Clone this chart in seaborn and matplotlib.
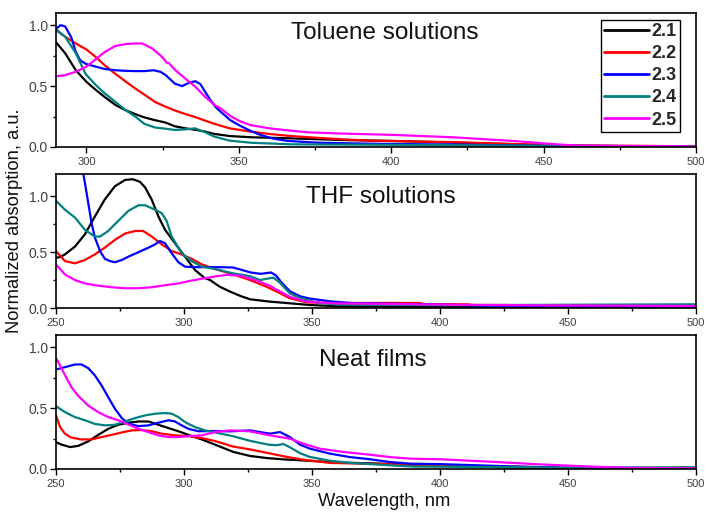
import numpy as np
import pandas as pd
import matplotlib
matplotlib.use("Agg")
import matplotlib.pyplot as plt
from matplotlib.ticker import MultipleLocator
import seaborn as sns

# ---------------- data ----------------
series_names = ["2.1", "2.2", "2.3", "2.4", "2.5"]
series_colors = ["#000000", "#ff0000", "#0000ff", "#008080", "#ff00ff"]
panel_titles = ["Toluene solutions", "THF solutions", "Neat films"]

# Toluene solutions
tol_x_21 = [290, 293, 296.5, 300, 303, 306, 309.5, 313, 316, 319, 322.5, 326, 329, 332.5, 336, 339, 342, 347, 354, 367, 384, 400, 430, 450, 480, 500]
tol_y_21 = [0.86, 0.77, 0.63, 0.535, 0.47, 0.41, 0.345, 0.30, 0.27, 0.243, 0.22, 0.20, 0.17, 0.153, 0.14, 0.126, 0.107, 0.09, 0.08, 0.071, 0.057, 0.05, 0.03, 0.015, 0.005, 0.004]
tol_x_22 = [290, 293, 296.5, 300, 303, 306, 309.5, 313, 316, 319, 322.5, 326, 329, 332.5, 336, 339, 342, 347, 354, 360, 367, 373, 384, 393, 420, 440, 460, 490, 500]
tol_y_22 = [0.96, 0.905, 0.85, 0.80, 0.74, 0.67, 0.60, 0.535, 0.48, 0.43, 0.37, 0.33, 0.30, 0.27, 0.243, 0.216, 0.19, 0.153, 0.126, 0.107, 0.09, 0.08, 0.063, 0.052, 0.04, 0.025, 0.012, 0.008, 0.005]
tol_x_23 = [290, 291.5, 293, 295, 296.5, 298, 300, 303, 306, 309.5, 313, 316, 319, 322, 324.3, 326, 329, 331.4, 333.6, 335.7, 337.4, 339, 340.7, 342.3, 344, 347.2, 350, 354, 357, 361, 366, 376, 386, 400, 420, 450, 500]
tol_y_23 = [0.97, 1.0, 0.99, 0.90, 0.78, 0.71, 0.68, 0.66, 0.64, 0.63, 0.625, 0.623, 0.623, 0.63, 0.617, 0.59, 0.52, 0.50, 0.527, 0.54, 0.516, 0.45, 0.385, 0.33, 0.29, 0.22, 0.18, 0.13, 0.10, 0.07, 0.05, 0.035, 0.03, 0.025, 0.02, 0.01, 0.005]
tol_x_24 = [290, 293, 296.5, 299.7, 303, 306, 309.5, 313, 316, 319, 322.5, 326, 329, 332.5, 335.7, 339, 342, 347, 354, 367, 400, 450, 500]
tol_y_24 = [0.965, 0.905, 0.77, 0.60, 0.51, 0.44, 0.37, 0.30, 0.25, 0.19, 0.16, 0.15, 0.14, 0.145, 0.153, 0.12, 0.085, 0.052, 0.035, 0.022, 0.018, 0.01, 0.005]
tol_x_25 = [290, 293, 296.5, 300, 303, 306, 309.5, 313, 316, 318.3, 321.5, 324.8, 326.4, 327, 329.2, 332.5, 335.7, 339, 342.3, 344, 347.2, 350.5, 353.8, 360, 367, 373, 384, 400, 420, 440, 450, 460, 500]
tol_y_25 = [0.58, 0.59, 0.617, 0.66, 0.72, 0.78, 0.83, 0.845, 0.85, 0.85, 0.81, 0.74, 0.69, 0.69, 0.63, 0.56, 0.495, 0.41, 0.34, 0.317, 0.254, 0.21, 0.18, 0.153, 0.134, 0.12, 0.11, 0.10, 0.08, 0.05, 0.03, 0.012, 0.005]

# THF solutions
thf_x_21 = [250, 251.6, 253.5, 257.4, 261.3, 265.2, 269, 273, 277, 280, 282.8, 284.8, 287.4, 290, 292.6, 296.5, 300.4, 304.3, 308, 310.2, 314, 318, 322, 325.8, 333.6, 341.4, 349.2, 360, 400, 500]
thf_y_21 = [0.45, 0.456, 0.48, 0.55, 0.66, 0.82, 0.97, 1.09, 1.147, 1.153, 1.13, 1.08, 0.97, 0.82, 0.70, 0.58, 0.46, 0.34, 0.27, 0.25, 0.19, 0.147, 0.108, 0.078, 0.057, 0.042, 0.027, 0.015, 0.01, 0.005]
thf_x_22 = [250, 253.5, 257.4, 261.3, 265.2, 269, 273, 277, 281, 284, 287.4, 291.3, 295.2, 299, 303, 307, 312, 319.3, 325.8, 332.3, 336.2, 341.4, 348, 360, 392, 394, 411, 413, 426, 435, 500]
thf_y_22 = [0.51, 0.42, 0.40, 0.43, 0.48, 0.54, 0.61, 0.667, 0.69, 0.69, 0.64, 0.57, 0.51, 0.48, 0.44, 0.39, 0.35, 0.30, 0.25, 0.19, 0.147, 0.087, 0.05, 0.045, 0.045, 0.035, 0.033, 0.027, 0.027, 0.02, 0.015]
thf_x_23 = [259.5, 261.3, 262.6, 263.9, 265.2, 267.2, 269.1, 271.1, 273, 275.7, 278.3, 282.2, 286.1, 288.7, 290.6, 292.6, 295.2, 297.8, 300.4, 304.3, 312, 319, 322, 326, 330, 334, 336, 338, 341.4, 345.3, 349, 357, 365, 400, 420, 450, 500]
thf_y_23 = [1.35, 1.12, 0.94, 0.76, 0.63, 0.51, 0.44, 0.42, 0.41, 0.43, 0.46, 0.50, 0.54, 0.57, 0.60, 0.58, 0.49, 0.41, 0.37, 0.366, 0.366, 0.363, 0.345, 0.318, 0.306, 0.318, 0.29, 0.23, 0.15, 0.105, 0.085, 0.06, 0.045, 0.03, 0.02, 0.015, 0.01]
thf_x_24 = [250, 253.5, 257.4, 261.3, 265.2, 267.2, 270.4, 274.3, 278.3, 282.2, 284.8, 288.7, 291.3, 293.2, 295.2, 299.1, 303, 307, 312, 319.3, 325.8, 329.7, 332.3, 335, 337.5, 341.4, 345.3, 351.8, 358.3, 400, 460, 500]
thf_y_24 = [0.96, 0.88, 0.81, 0.70, 0.64, 0.64, 0.69, 0.78, 0.87, 0.92, 0.92, 0.88, 0.85, 0.78, 0.64, 0.49, 0.42, 0.37, 0.35, 0.31, 0.285, 0.25, 0.262, 0.272, 0.225, 0.13, 0.09, 0.048, 0.033, 0.025, 0.03, 0.033]
thf_x_25 = [250, 253.5, 257.4, 261.3, 266.5, 271.7, 277, 282.2, 287.4, 292.6, 297.8, 303, 308.2, 312.8, 316.7, 321.9, 328.4, 333.6, 337.5, 341.4, 347.9, 358.3, 400, 430, 500]
thf_y_25 = [0.39, 0.30, 0.25, 0.22, 0.20, 0.186, 0.177, 0.177, 0.186, 0.204, 0.22, 0.246, 0.267, 0.285, 0.297, 0.29, 0.246, 0.198, 0.147, 0.10, 0.057, 0.042, 0.03, 0.025, 0.018]

# Neat films
film_x_21 = [250, 252.2, 255.5, 258.7, 262.6, 266.5, 270.4, 274.3, 278.3, 282.2, 286.1, 290, 293.9, 297.8, 301.7, 306.9, 312.1, 319.3, 325.8, 332.3, 338.8, 345.3, 358.3, 400, 430, 450, 500]
film_y_21 = [0.22, 0.20, 0.18, 0.19, 0.227, 0.28, 0.33, 0.363, 0.38, 0.39, 0.39, 0.363, 0.336, 0.31, 0.28, 0.243, 0.2, 0.14, 0.107, 0.09, 0.079, 0.072, 0.055, 0.03, 0.01, 0.005, 0.003]
film_x_22 = [250, 251.6, 253.5, 255.7, 259.6, 263.9, 267.4, 271.7, 275.7, 279.6, 283.5, 287.4, 291.3, 296.5, 301.7, 306.9, 312.1, 319, 326, 333, 340, 346, 357, 400, 440, 460, 500]
film_y_22 = [0.44, 0.344, 0.29, 0.26, 0.243, 0.243, 0.26, 0.28, 0.30, 0.317, 0.32, 0.31, 0.29, 0.276, 0.27, 0.254, 0.23, 0.185, 0.16, 0.13, 0.10, 0.078, 0.05, 0.03, 0.015, 0.005, 0.003]
film_x_23 = [250, 253.5, 257.4, 260, 262.6, 265.2, 267.8, 270.4, 273, 275.7, 278.3, 282.2, 286.1, 290, 293.9, 296.5, 299.1, 301.7, 305.6, 312, 318, 325.8, 333.6, 337.5, 341.4, 345.3, 349.2, 357, 364.8, 372.7, 380.5, 388.3, 400, 430, 450, 500]
film_y_23 = [0.817, 0.836, 0.858, 0.858, 0.828, 0.768, 0.686, 0.59, 0.495, 0.418, 0.372, 0.352, 0.358, 0.38, 0.40, 0.39, 0.358, 0.33, 0.31, 0.312, 0.309, 0.317, 0.29, 0.303, 0.262, 0.2, 0.167, 0.126, 0.098, 0.08, 0.057, 0.044, 0.04, 0.02, 0.01, 0.005]
film_x_24 = [250, 253.5, 257.4, 261.3, 265.2, 269.1, 273, 276.9, 280.9, 284.8, 288.7, 292.6, 295.2, 297.8, 300.4, 304.3, 308.2, 312.1, 319, 326, 333, 336, 338.8, 341.4, 345.3, 349, 357, 365, 373, 380.5, 390, 450, 500]
film_y_24 = [0.516, 0.467, 0.426, 0.40, 0.37, 0.358, 0.363, 0.39, 0.418, 0.44, 0.454, 0.459, 0.454, 0.426, 0.385, 0.344, 0.317, 0.30, 0.27, 0.23, 0.20, 0.195, 0.205, 0.178, 0.13, 0.10, 0.068, 0.05, 0.04, 0.03, 0.02, 0.012, 0.015]
film_x_25 = [250, 251.6, 253.5, 256.1, 258.7, 262.6, 266.5, 270.4, 274.3, 278.3, 282.2, 286.1, 290, 293.9, 297.8, 301.7, 306.9, 312.1, 318, 325.8, 333.6, 341.4, 346.6, 353, 362.2, 372.7, 380.5, 388.3, 400, 419.5, 439, 458.6, 474.2, 500]
film_y_25 = [0.91, 0.85, 0.77, 0.67, 0.60, 0.52, 0.467, 0.426, 0.40, 0.366, 0.33, 0.303, 0.276, 0.262, 0.262, 0.27, 0.276, 0.303, 0.317, 0.309, 0.276, 0.249, 0.208, 0.167, 0.14, 0.117, 0.098, 0.085, 0.08, 0.06, 0.038, 0.02, 0.01, 0.005]

panels = [
    [(tol_x_21, tol_y_21), (tol_x_22, tol_y_22), (tol_x_23, tol_y_23), (tol_x_24, tol_y_24), (tol_x_25, tol_y_25)],
    [(thf_x_21, thf_y_21), (thf_x_22, thf_y_22), (thf_x_23, thf_y_23), (thf_x_24, thf_y_24), (thf_x_25, thf_y_25)],
    [(film_x_21, film_y_21), (film_x_22, film_y_22), (film_x_23, film_y_23), (film_x_24, film_y_24), (film_x_25, film_y_25)],
]
xlims = [(290, 500), (250, 500), (250, 500)]
ylims = [(0, 1.1), (0, 1.2), (0, 1.1)]

# ---------------- style ----------------
sns.set_style("ticks")
plt.rcParams["font.family"] = ["Liberation Sans", "DejaVu Sans"]

fig = plt.figure(figsize=(7.07, 5.15), dpi=100)
W, H = 707, 515
boxes = [(56, 13, 696, 147), (56, 174, 696, 308), (56, 335, 696, 469)]
palette = dict(zip(series_names, series_colors))
tick_gray = "#404040"

title_pos = [(0.514, 0.85), (0.508, 0.83), (0.495, 0.81)]

for i, (l, t, r, b) in enumerate(boxes):
    ax = fig.add_axes([l / W, 1 - b / H, (r - l) / W, (b - t) / H])
    frames = []
    for name, (xs, ys) in zip(series_names, panels[i]):
        frames.append(pd.DataFrame({"wl": xs, "abs": ys, "series": name}))
    df = pd.concat(frames, ignore_index=True)
    sns.lineplot(data=df, x="wl", y="abs", hue="series", palette=palette,
                 hue_order=series_names, estimator=None, sort=False,
                 linewidth=1.6, ax=ax, legend=(i == 0))
    ax.set_xlim(*xlims[i])
    ax.set_ylim(*ylims[i])
    ax.set_xlabel("")
    ax.set_ylabel("")
    ax.xaxis.set_major_locator(MultipleLocator(50))
    ax.xaxis.set_minor_locator(MultipleLocator(25))
    ax.yaxis.set_major_locator(MultipleLocator(0.5))
    ax.yaxis.set_minor_locator(MultipleLocator(0.25))
    ax.tick_params(which="major", direction="out", length=4, width=1, color="black")
    ax.tick_params(which="minor", direction="out", length=2.5, width=1, color="black")
    ax.tick_params(axis="x", labelsize=8, labelcolor=tick_gray, pad=3)
    ax.tick_params(axis="y", labelsize=10, labelcolor=tick_gray, pad=2)
    for s in ax.spines.values():
        s.set_visible(True)
        s.set_linewidth(1.2)
        s.set_color("black")
    ax.text(title_pos[i][0], title_pos[i][1], panel_titles[i], transform=ax.transAxes,
            ha="center", va="center", fontsize=17.5, color="#111111")
    if i == 0:
        leg = ax.legend(loc="upper right", bbox_to_anchor=(0.975, 0.95),
                        borderaxespad=0, fancybox=False, frameon=True,
                        edgecolor="black", framealpha=1, handlelength=2.5,
                        handletextpad=0.1, labelspacing=0.28, borderpad=0.2,
                        prop={"weight": "bold", "size": 13})
        leg.get_frame().set_linewidth(1.0)
        for ln in leg.get_lines():
            ln.set_linewidth(2.0)

fig.text(0.02, 0.571, "Normalized absorption, a.u.", rotation=90, ha="center",
         va="center", fontsize=13.2, color="#111111")
fig.text(384 / W, 1 - 502 / H, "Wavelength, nm", ha="center", va="center",
         fontsize=13.2, color="#111111")

fig.savefig("out.png", dpi=100)
